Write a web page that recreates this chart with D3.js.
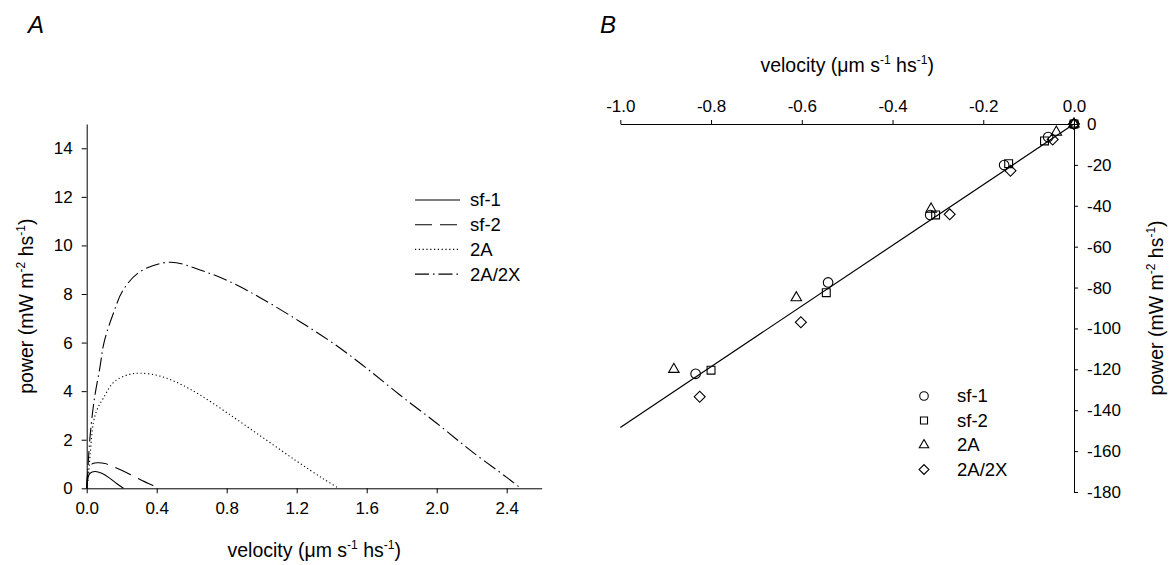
<!DOCTYPE html>
<html>
<head>
<meta charset="utf-8">
<script src="https://cdn.jsdelivr.net/npm/d3@7"></script>
<style>
  body { margin: 0; background: #fff; }
  svg { display: block; }
  text { font-family: "Liberation Sans", Arial, Helvetica, sans-serif; fill: #000; }
</style>
</head>
<body>
<svg id="chart" width="1172" height="565"></svg>
<script>
// ---- Panel A: power–velocity curves (velocity, power) ----
const seriesNames = ["sf-1", "sf-2", "2A", "2A/2X"];

const powerSf1 = [[0,0],[0.003,0.2],[0.009,0.48],[0.019,0.62],[0.047,0.69],[0.086,0.62],[0.133,0.41],[0.171,0.2],[0.21,0]];
const powerSf2 = [[0,0],[0.004,0.5],[0.009,0.75],[0.019,0.92],[0.035,1.02],[0.06,1.05],[0.105,1.02],[0.152,0.89],[0.229,0.64],[0.305,0.36],[0.35,0.21],[0.41,0]];
const power2A = [[0,0],[0.005,0.2],[0.01,0.5],[0.02,1.4],[0.038,2.7],[0.06,3.25],[0.095,3.71],[0.152,4.35],[0.229,4.66],[0.305,4.74],[0.419,4.62],[0.533,4.3],[0.648,3.84],[0.8,3.12],[1.0,2.12],[1.2,1.12],[1.35,0.4],[1.44,0]];
const power2A2X = [[0,0],[0.005,0.6],[0.01,1.2],[0.02,2.2],[0.043,3.64],[0.076,5.0],[0.099,6.0],[0.152,7.2],[0.209,8.17],[0.305,8.92],[0.476,9.31],[0.648,8.99],[0.838,8.44],[1.029,7.69],[1.219,6.86],[1.409,5.97],[1.6,4.94],[1.79,3.84],[2.0,2.68],[2.2,1.52],[2.4,0.45],[2.48,0]];

const ticksA_x = [0, 0.4, 0.8, 1.2, 1.6, 2.0, 2.4];
const ticksA_y = [0, 2, 4, 6, 8, 10, 12, 14];

// ---- Panel B: measured points (velocity, power) and fitted line ----
const pointsSf1 = [[0,0],[-0.057,-6.4],[-0.154,-20.1],[-0.317,-44.5],[-0.542,-77.5],[-0.834,-122.2]];
const pointsSf2 = [[0,0],[-0.065,-8.3],[-0.144,-19.4],[-0.305,-44.5],[-0.546,-82.5],[-0.800,-120.4]];
const points2A = [[0,0],[-0.039,-4.0],[-0.315,-41.6],[-0.612,-85.0],[-0.882,-120.0]];
const points2A2X = [[0,0],[-0.047,-7.6],[-0.140,-22.9],[-0.274,-44.2],[-0.602,-97.0],[-0.825,-133.4]];
const fitLine = [[0,0],[-1.0,-148.4]];

const ticksB_x = [-1.0, -0.8, -0.6, -0.4, -0.2, 0.0];
const ticksB_y = [0, -20, -40, -60, -80, -100, -120, -140, -160, -180];

const svg = d3.select("#chart");

// axis title with superscript pieces
function richText(sel, parts, size) {
  const t = sel.append("text").attr("font-size", size);
  parts.forEach(([s, sup], i) => {
    const ts = t.append("tspan").text(s);
    if (sup) {
      ts.attr("font-size", Math.round(size * 0.62)).attr("dy", -size * 0.42);
    } else if (i > 0 && parts[i - 1][1]) {
      ts.attr("dy", size * 0.42);
    }
  });
  return t;
}

const velocityLabel = [["velocity (μm s", false], ["-1", true], [" hs", false], ["-1", true], [")", false]];
const powerLabel = [["power (mW m", false], ["-2", true], [" hs", false], ["-1", true], [")", false]];

function styleAxis(g, fs) {
  g.selectAll("path.domain").attr("stroke", "#000").attr("stroke-width", 1);
  g.selectAll(".tick line").attr("stroke", "#000").attr("stroke-width", 1);
  g.selectAll(".tick text").attr("font-size", fs)
    .attr("font-family", '"Liberation Sans", Arial, sans-serif').attr("fill", "#000")
    .text(function() { return this.textContent.replace("−", "-"); });
}

// ================= Panel A =================
const xA = d3.scaleLinear().domain([0, 2.6]).range([86.7, 541.7]);
const yA = d3.scaleLinear().domain([0, 15]).range([488.3, 124]);

const gA = svg.append("g");

gA.append("g").attr("transform", `translate(0,${yA(0)})`)
  .call(d3.axisBottom(xA).tickValues(ticksA_x).tickFormat(d3.format(".1f")).tickSize(5).tickPadding(9).tickSizeOuter(0))
  .call(g => styleAxis(g, 17));
gA.append("g").attr("transform", `translate(${xA(0)},0)`)
  .call(d3.axisLeft(yA).tickValues(ticksA_y).tickFormat(d3.format("d")).tickSize(5).tickPadding(9).tickSizeOuter(0))
  .call(g => styleAxis(g, 17));

const lineA = d3.line().x(d => xA(d[0])).y(d => yA(d[1])).curve(d3.curveCatmullRom.alpha(0.5));
const dashes = ["none", "17,8", "1.2,2.6", "14,4,1.5,4"];
const curvesA = [powerSf1, powerSf2, power2A, power2A2X];

curvesA.forEach((c, i) => {
  gA.append("path").datum(c).attr("d", lineA)
    .attr("fill", "none").attr("stroke", "#000").attr("stroke-width", 1.1)
    .attr("stroke-dasharray", dashes[i]);
});

// legend A
const legA = gA.append("g").attr("transform", "translate(415,200)");
seriesNames.forEach((n, i) => {
  const y = i * 24.7;
  legA.append("line").attr("x1", 0).attr("x2", 45).attr("y1", y).attr("y2", y)
    .attr("stroke", "#000").attr("stroke-width", 1.1).attr("stroke-dasharray", dashes[i]);
  legA.append("text").attr("x", 55).attr("y", y).attr("dy", "0.35em").attr("font-size", 18.5).text(n);
});

richText(gA, velocityLabel, 19.5)
  .attr("x", (xA.range()[0] + xA.range()[1]) / 2).attr("y", 557).attr("text-anchor", "middle");
richText(gA, powerLabel, 19.5)
  .attr("text-anchor", "middle")
  .attr("transform", `translate(33,${(yA.range()[0] + yA.range()[1]) / 2}) rotate(-90)`);

gA.append("text").attr("x", 28).attr("y", 33).attr("font-size", 24).attr("font-style", "italic").text("A");

// ================= Panel B =================
const xB = d3.scaleLinear().domain([-1, 0]).range([620.3, 1074]);
const yB = d3.scaleLinear().domain([-180, 0]).range([492, 124]);

const gB = svg.append("g");

gB.append("g").attr("transform", `translate(0,${yB(0)})`)
  .call(d3.axisTop(xB).tickValues(ticksB_x).tickFormat(d3.format(".1f")).tickSize(4).tickPadding(8).tickSizeOuter(0))
  .call(g => styleAxis(g, 17));
gB.append("g").attr("transform", `translate(${xB(0)},0)`)
  .call(d3.axisRight(yB).tickValues(ticksB_y).tickFormat(d3.format("d")).tickSize(4).tickPadding(9).tickSizeOuter(0))
  .call(g => styleAxis(g, 17));

const lineB = d3.line().x(d => xB(d[0])).y(d => yB(d[1]));
gB.append("path").datum(fitLine).attr("d", lineB)
  .attr("fill", "none").attr("stroke", "#000").attr("stroke-width", 1.2);

// markers: circle, square, triangle, diamond (square turned 45°)
const symbols = [d3.symbolCircle, d3.symbolSquare, d3.symbolTriangle, d3.symbolSquare];
const symSizes = [72, 62, 48, 60];
const pointSets = [pointsSf1, pointsSf2, points2A, points2A2X];

function drawSymbol(g, type, size, x, y) {
  const path = d3.symbol().type(symbols[type]).size(size)();
  let tr = `translate(${x},${y})`;
  if (type === 3) tr += " rotate(45)";
  g.append("path").attr("d", path).attr("transform", tr)
    .attr("fill", "none").attr("stroke", "#000").attr("stroke-width", 1.1);
}

pointSets.forEach((pts, i) => {
  pts.forEach(p => drawSymbol(gB, i, symSizes[i], xB(p[0]), yB(p[1])));
});

// legend B
const legB = gB.append("g").attr("transform", "translate(924,396)");
seriesNames.forEach((n, i) => {
  const y = i * 24.5;
  drawSymbol(legB, i, symSizes[i] * 0.8, 0, y);
  legB.append("text").attr("x", 33).attr("y", y).attr("dy", "0.35em").attr("font-size", 18.5).text(n);
});

richText(gB, velocityLabel, 19.5)
  .attr("x", (xB.range()[0] + xB.range()[1]) / 2).attr("y", 72).attr("text-anchor", "middle");
richText(gB, powerLabel, 19.5)
  .attr("text-anchor", "middle")
  .attr("transform", `translate(1163,${(yB.range()[0] + yB.range()[1]) / 2}) rotate(-90)`);

gB.append("text").attr("x", 600).attr("y", 33).attr("font-size", 24).attr("font-style", "italic").text("B");
</script>
</body>
</html>
